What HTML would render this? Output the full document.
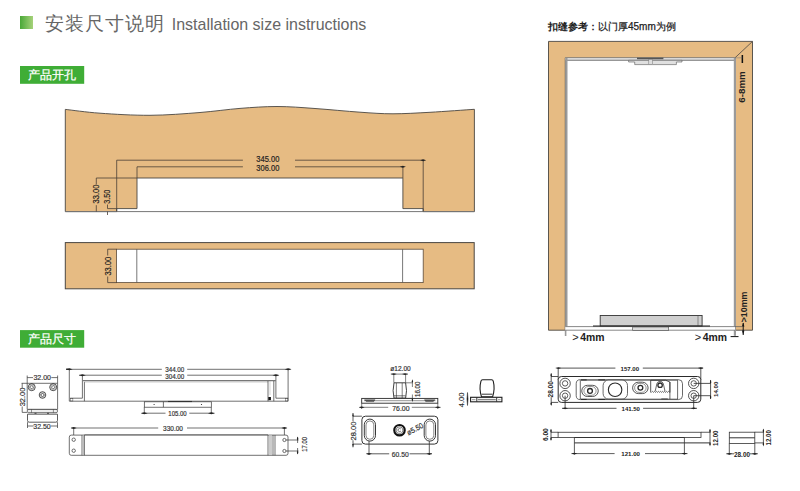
<!DOCTYPE html>
<html><head><meta charset="utf-8">
<style>
html,body{margin:0;padding:0;background:#fff;width:800px;height:491px;overflow:hidden}
svg{display:block;position:absolute;left:0;top:0}
text{font-family:"Liberation Sans",sans-serif}
</style></head><body>
<svg width="800" height="491" viewBox="0 0 800 491">
<defs>
<linearGradient id="gsq" x1="0" x2="1" y1="0" y2="0">
<stop offset="0" stop-color="#4aa838"/><stop offset="1" stop-color="#a6d27a"/>
</linearGradient>
</defs>
<!-- header -->
<rect x="20" y="16" width="13" height="13" fill="url(#gsq)"/>
<text x="45" y="29.5" font-size="19" letter-spacing="1" fill="#666">安装尺寸说明</text>
<text x="171.8" y="29.8" font-size="16.2" textLength="194.5" lengthAdjust="spacingAndGlyphs" fill="#666">Installation size instructions</text>

<rect x="20" y="66" width="64.2" height="17.8" fill="#3fad36"/>
<text x="28.4" y="79" font-size="11.8" fill="#fff" stroke="#fff" stroke-width="0.25">产品开孔</text>
<rect x="20" y="330.1" width="64.2" height="17.6" fill="#3fad36"/>
<text x="28.4" y="343" font-size="11.8" fill="#fff" stroke="#fff" stroke-width="0.25">产品尺寸</text>

<!-- ================= panel 1 ================= -->
<g id="p1">
<path d="M65.3,109.4 C71.1,110.0 85.9,112.2 100.0,113.2 C114.1,114.2 133.3,115.4 150.0,115.3 C166.7,115.2 185.0,113.7 200.0,112.5 C215.0,111.3 227.2,109.4 240.0,108.4 C252.8,107.4 264.5,106.5 277.0,106.5 C289.5,106.5 301.2,107.5 315.0,108.5 C328.8,109.5 347.0,111.3 360.0,112.2 C373.0,113.1 381.3,113.8 393.0,113.8 C404.7,113.8 416.4,113.0 430.0,112.3 C443.6,111.5 467.0,109.8 474.4,109.3 L474.4,211.6 L423.2,211.6 L423.2,208.6 L402.9,208.6 L402.9,178 L137,178 L137,208.6 L116.7,208.6 L116.7,211.6 L65.3,211.6 Z" fill="#e6bb83" stroke="#4a4642" stroke-width="0.9"/>
<line x1="65.3" y1="211.6" x2="474.4" y2="211.6" stroke="#777" stroke-width="1"/>
<g stroke="#4a3f35" stroke-width="0.8" fill="none">
<path d="M116.7,211.6 V160.2 H242.9 M295,160.2 H423.2 V211.6"/>
<path d="M137,178 V166.8 H242.9 M295,166.8 H402.9 V178"/>
<path d="M137,178 H96.3 V184.3 M96.3,205.2 V211.6"/>
<path d="M116.7,208.6 H107.5 V204.5 M107.5,211.6 V215"/>
</g>
<g fill="#222">
<path d="M420.2,160.2 L423.2,159.2 L426.2,160.2 L423.2,161.2 Z"/>
<path d="M399.9,166.8 L402.9,165.8 L405.9,166.8 L402.9,167.8 Z"/>
</g>
</g>

<!-- ================= panel 2 ================= -->
<g id="p2">
<rect x="65.3" y="242.6" width="408.9" height="46.2" fill="#e6bb83" stroke="#4a4642" stroke-width="1"/>
<rect x="116.5" y="249.2" width="306.7" height="33.4" fill="#fff" stroke="#5a4a3a" stroke-width="0.8"/>
<g stroke="#555" stroke-width="0.8" fill="none">
<path d="M136.8,249.2 V282.6 M402.6,249.2 V282.6"/>
</g>
<g stroke="#4a3f35" stroke-width="0.8" fill="none">
<path d="M116.5,249.2 H107.7 V255.5 M107.7,276.5 V282.6 H116.5"/>
</g>
</g>

<!-- ================= right door frame ================= -->
<g id="door">
<path d="M548.5,41.4 H752.5 V330.2 H735 V57.8 H565.3 V330.2 H548.5 Z" fill="#e6bb83" stroke="#4a4642" stroke-width="0.9"/>
<line x1="752.5" y1="41.4" x2="735" y2="57.8" stroke="#4a4642" stroke-width="0.8"/>
<!-- grey door edges -->
<rect x="565.3" y="57.8" width="169.7" height="2.6" fill="#d8d8d8"/>
<line x1="565.3" y1="60.3" x2="735" y2="60.3" stroke="#666" stroke-width="0.8"/>
<rect x="565.3" y="57.8" width="2.2" height="268.5" fill="#9a9a9a"/>
<rect x="733.8" y="57.8" width="2.2" height="278" fill="#9a9a9a"/>
<rect x="564.8" y="326" width="1.6" height="10" fill="#9a9a9a"/>
<!-- top pivot -->
<rect x="637" y="57.6" width="26.4" height="1.6" fill="#555"/>
<path d="M628.6,60.3 H682 V62 H676.4 V64.6 H634.7 V62 H628.6 Z" fill="#e0e0e0" stroke="#555" stroke-width="0.6"/>
<rect x="648.8" y="59.5" width="3.7" height="5.1" fill="#ddd" stroke="#777" stroke-width="0.5"/>
<rect x="741.6" y="55" width="1.5" height="8" fill="#111"/>
<line x1="735" y1="57.8" x2="742.3" y2="57.8" stroke="#777" stroke-width="0.5"/>
<!-- floor -->
<rect x="565.3" y="326.4" width="169.7" height="3.9" fill="#fff"/>
<path d="M565.3,326.6 H742 M565.3,330.2 H735" stroke="#555" stroke-width="0.7" fill="none"/>
<rect x="600.2" y="315.5" width="101.9" height="10.5" fill="#cfcfcf" stroke="#333" stroke-width="0.9"/>
<line x1="698" y1="316" x2="698" y2="326" stroke="#555" stroke-width="0.6"/>
<line x1="593" y1="326" x2="710" y2="326" stroke="#222" stroke-width="1"/>
<rect x="632.7" y="327" width="36" height="3.5" fill="#ddd" stroke="#444" stroke-width="0.6"/>
<line x1="730.6" y1="336.6" x2="738.5" y2="336.6" stroke="#111" stroke-width="1"/>
<path d="M743.2,323 V335" stroke="#111" stroke-width="1"/><path d="M743.2,322.6 L744.4,326.4 L742,326.4 Z M743.2,334.8 L744.4,330.4 L742,330.4 Z" fill="#111"/>
</g>


<!-- ================= bottom left: bracket ================= -->
<g id="bracket" stroke="#333" stroke-width="0.7" fill="none">
<path d="M27.2,383.3 H57.6 V409.4 H27.2 Z" fill="#fff"/>
<path d="M21.6,383.3 H27.2 M22.2,383.3 V388 M22.2,406.5 V412.4 H27.2"/>
<path d="M27.2,383.3 V375.5 M57.6,383.3 V375.5 M27.2,377.6 H33 M51.3,377.6 H57.6"/>
<circle cx="31.7" cy="387.2" r="3.5" stroke="#222" stroke-width="0.8"/><circle cx="31.7" cy="387.2" r="2.3" stroke-width="0.4"/>
<circle cx="53.2" cy="387.2" r="3.5" stroke="#222" stroke-width="0.8"/><circle cx="53.2" cy="387.2" r="2.3" stroke-width="0.4"/>
<circle cx="42.5" cy="395" r="3.3" stroke="#222" stroke-width="0.8"/><circle cx="42.5" cy="395" r="2.1" stroke-width="0.4"/>
<path d="M31.7,385.5 L33.4,387.2 L31.7,388.9 L30,387.2 Z M53.2,385.5 L54.9,387.2 L53.2,388.9 L51.5,387.2 Z M42.5,393.3 L44.2,395 L42.5,396.7 L40.8,395 Z" stroke="#222" stroke-width="0.6"/>
<rect x="27.3" y="409.4" width="30.2" height="3.3" rx="1.4" fill="#eee"/>
<path d="M31.5,409.4 V412.7 M53.4,409.4 V412.7" stroke-width="0.5"/>
<path d="M34.5,413.3 H36.5 M47,413.3 H49" stroke-width="0.9"/>
<path d="M27.5,414.2 H57.5 V420.5 Q57.5,422.2 55.8,422.2 H29.2 Q27.5,422.2 27.5,420.5 Z" stroke-width="0.8"/>
<path d="M27.5,422.2 V428 M57.5,422.2 V428 M27.5,426 H33.5 M50.8,426 H57.5"/>
</g>

<!-- ================= bottom left: profile 344 ================= -->
<g id="prof1" stroke="#333" stroke-width="0.7" fill="none">
<path d="M66.5,369.3 H161.8 M187.2,369.3 H290.5"/>
<path d="M79,375.2 H161.8 M187.2,375.2 H278.5"/>
<path d="M69.3,369.3 V401.2 H288.1 V369.3"/>
<path d="M82.4,375.2 V398.2 H70.2"/>
<path d="M275.9,375.2 V398.2 H288.1"/>
<path d="M84.4,381.9 V401.2"/>
<path d="M82.4,380.6 H275.9" stroke="#777" stroke-width="1.2"/>
<path d="M84.4,382 H268" stroke="#999" stroke-width="0.5"/>
<path d="M268,381 V401.2 M273.8,381 V401.2" />
<path d="M270,381 V395" stroke="#aaa" stroke-width="0.5"/>
<rect x="268.3" y="397" width="2.6" height="3.2" fill="#111" stroke="none"/>
<rect x="285.3" y="398.6" width="2.6" height="2.4" stroke-width="0.4"/>
<rect x="70.3" y="398.6" width="2.6" height="2.4" stroke-width="0.4"/>
<!-- small piece 105 -->
<rect x="144.3" y="401.8" width="67" height="5.4" fill="#fff"/>
<path d="M163.4,401.8 V407.2"/>
<path d="M168,401.5 H192" stroke-width="1.1"/>
<path d="M144.3,407.2 V413.5 M211.3,407.2 V413.5 M141.5,413.2 H165.5 M189.3,413.2 H214.5"/>
</g>
<g fill="#222">
<path d="M66.2,368.6 L71.5,369.3 L66.2,370 Z" transform="rotate(0)"/>
<circle cx="154.1" cy="404.5" r="0.6"/><circle cx="201.5" cy="404.5" r="0.6"/>
<path d="M66,369.3 L69.3,368.3 L72.6,369.3 L69.3,370.3 Z"/>
<path d="M79,375.2 L82.4,374.2 L85.8,375.2 L82.4,376.2 Z"/>
<path d="M284.7,369.3 L288.1,368.3 L291.5,369.3 L288.1,370.3 Z"/>
<path d="M272.5,375.2 L275.9,374.2 L279.3,375.2 L275.9,376.2 Z"/>
<path d="M141,413.2 L144.3,412.2 L147.6,413.2 L144.3,414.2 Z"/>
<path d="M208,413.2 L211.3,412.2 L214.6,413.2 L211.3,414.2 Z"/>
</g>

<!-- ================= profile 330 ================= -->
<g id="prof2" stroke="#333" stroke-width="0.7" fill="none">
<path d="M71.2,428 H158.2 M187,428 H286.5"/>
<path d="M73.7,428 V438 M284.4,428 V438.3"/>
<path d="M71.3,435.1 H286 Q288,435.1 288,437.1 V453.3 Q288,455.3 286,455.3 H71.3 Q69.3,455.3 69.3,453.3 V437.1 Q69.3,435.1 71.3,435.1 Z" fill="#fff"/>
<path d="M84.4,434.6 H268" stroke="#888" stroke-width="1.2"/>
<path d="M82,435.1 V455.3 M84.4,435.1 V455.3 M268,435.1 V455.3 M273,435.1 V455.3 M275,435.1 V455.3"/>
<path d="M83.2,435.5 V455" stroke="#bbb" stroke-width="1.6"/>
<path d="M270.5,435.5 V455" stroke="#ccc" stroke-width="3"/>
<circle cx="73.7" cy="439.7" r="1.7"/><circle cx="73.7" cy="450.7" r="1.7"/>
<circle cx="284.4" cy="440" r="1.6"/><circle cx="284.4" cy="451" r="1.6"/>
<path d="M286,440 H298.5 M286,451 H298.5 M297.6,437 V443 M297.6,448 V454"/>
</g>
<g fill="#222">
<path d="M70.7,428 L73.7,427 L76.7,428 L73.7,429 Z"/>
<path d="M281.4,428 L284.4,427 L287.4,428 L284.4,429 Z"/>
<path d="M297.6,436.40 L298.35,438.80 L297.6,440.40 L296.85,438.80 Z M297.6,454.60 L298.35,452.20 L297.6,450.60 L296.85,452.20 Z "/>
</g>

<!-- ================= shaft (ø12) ================= -->
<g id="shaft" stroke="#2a2a2a" stroke-width="0.7" fill="none">
<path d="M390.8,374.1 H408 M393.8,374.1 V382.8 M405.6,374.1 V382.8" stroke-width="0.6"/>
<path d="M394,382.8 H405.6 Q407.4,390.6 405.6,398.4 H394 Q392.2,390.6 394,382.8 Z" fill="#fff" stroke-width="0.9"/>
<path d="M396.4,383 V403 M402.2,383 V403" stroke-width="0.6"/>
<path d="M394,395.6 H405.6 M394,397.2 H405.6" stroke-width="0.5"/>
<path d="M405.6,382.8 H412.5 M405.6,398.4 H412.5 M412.4,382.8 V387 M412.4,394.5 V398.8" stroke-width="0.6"/>
<rect x="361.7" y="398.4" width="76.1" height="4.8" fill="#fff" stroke-width="0.9"/>
<path d="M364,400.7 H435.5" stroke-width="0.5"/>
<path d="M364.5,399.7 H375 L373.8,401.6 H366.3 Z M424.5,399.7 H435 L433.2,401.6 H425.7 Z" fill="#555" stroke-width="0.4"/>
<path d="M361.7,403.2 V409 M437.8,403.2 V409 M359.5,407.3 H388.2 M411.8,407.3 H440.5" stroke-width="0.6"/>
</g>
<g fill="#222">
<path d="M390.8,374.1 L393.8,373.2 L396.8,374.1 L393.8,375 Z M402,374.1 L405,373.2 L408,374.1 L405,375 Z"/>
<path d="M412.4,379.20 L413.15,381.60 L412.4,383.20 L411.65,381.60 Z M412.4,402.00 L413.15,399.60 L412.4,398.00 L411.65,399.60 Z "/>
<path d="M358.7,407.3 L361.7,406.4 L364.7,407.3 L361.7,408.2 Z M434.8,407.3 L437.8,406.4 L440.8,407.3 L437.8,408.2 Z"/>
</g>

<!-- ================= knob ================= -->
<g id="knob" stroke="#1e1e1e" stroke-width="1.1" fill="none">
<path d="M482.6,379.8 H491.6 Q493,379.8 493.3,381.3 Q495.2,388.5 492.6,396.8 H481.5 Q478.9,388.5 480.9,381.3 Q481.2,379.8 482.6,379.8 Z" fill="#fff"/>
<path d="M481.6,394.2 H492.5" stroke-width="0.9"/>
<rect x="470.6" y="397.3" width="31.3" height="4.5" fill="#fff" stroke-width="1.1"/>
<path d="M476.8,397.5 V401.6 M496.7,397.5 V401.6" stroke-width="0.9"/>
<path d="M477.8,399.6 H495.8" stroke="#888" stroke-width="1.4"/>
<path d="M472,399.6 H475.5 M498,399.6 H500.6" stroke="#aaa" stroke-width="1.2"/>
</g>
<path d="M467.5,392.5 Q468.6,399 467.5,405.5 Q466.4,399 467.5,392.5 Z" fill="#1e1e1e" stroke="#1e1e1e" stroke-width="0.5"/>

<!-- ================= plate (28 / 60.50) ================= -->
<g id="plate" stroke="#333" stroke-width="0.8" fill="none">
<rect x="361.9" y="416.2" width="76" height="27.9" rx="3.5" fill="#fff" stroke-width="1"/>
<rect x="364.3" y="419.1" width="11.2" height="22" rx="5.6" stroke="#222" stroke-width="0.9"/>
<rect x="366" y="420.9" width="7.8" height="18.4" rx="3.9" stroke-width="0.6"/>
<rect x="424.2" y="419.1" width="11.3" height="22" rx="5.6" stroke="#222" stroke-width="0.9"/>
<rect x="425.9" y="420.9" width="7.9" height="18.4" rx="3.9" stroke-width="0.6"/>
<circle cx="399.5" cy="430.2" r="5.2" stroke-width="2.2" stroke="#111"/>
<circle cx="399.5" cy="430.2" r="3.4" stroke-width="0.6"/>
<path d="M400.8,429 A1.6,1.6 0 1 0 400.9,431" stroke-width="0.7"/>
<path d="M353,416.2 H361.9 M353,444.1 H361.9 M353,413 V421.3 M353,440.3 V447.3"/>
<path d="M369,441.1 V455 M429.3,441.1 V455 M366.5,453.8 H389.2 M409.6,453.8 H432"/>
</g>
<g fill="#222">
<path d="M352.2,416.2 L353,413 L353.8,416.2 Z M352.2,444.1 L353,447.3 L353.8,444.1 Z"/>
<path d="M366,453.8 L369,452.9 L372,453.8 L369,454.7 Z M426.3,453.8 L429.3,452.9 L432.3,453.8 L429.3,454.7 Z"/>
</g>

<!-- ================= right plate 157 ================= -->
<g id="rplate" stroke="#2a2a2a" stroke-width="0.8" fill="none">
<path d="M558.2,368.1 H615.4 M642.8,368.1 H703 M558.2,368.1 V380 M700.8,368.1 V380"/>
<rect x="558.2" y="376.5" width="142.6" height="25.9" rx="3.2" fill="#fff" stroke-width="1"/>
<circle cx="565.1" cy="383.4" r="5.2"/><circle cx="565.1" cy="383.4" r="2.7" stroke-width="0.75"/>
<circle cx="565.1" cy="395.7" r="5.2"/><circle cx="565.1" cy="395.7" r="2.7" stroke-width="0.75"/>
<circle cx="693.7" cy="383.4" r="5.2"/><circle cx="693.7" cy="383.4" r="2.7" stroke-width="0.75"/>
<circle cx="693.7" cy="395.7" r="5.2"/><circle cx="693.7" cy="395.7" r="2.7" stroke-width="0.75"/>
<path d="M580.3,379.7 H678.5 Q682.5,379.7 682.5,383.7 V395.6 Q682.5,399.6 678.5,399.6 H580.3 Q576.2,399.6 576.2,395.6 V383.7 Q576.2,379.7 580.3,379.7 Z" fill="#fff" stroke-width="0.7"/>
<path d="M580.3,380.4 V399" stroke-width="0.7"/>
<path d="M580.3,380.4 H678" stroke-width="0.5"/>
<path d="M580.3,399 H678" stroke-width="0.5"/>
<path d="M581,379.9 H586.7 M598.3,379.9 H605 M581,399.4 H586.7 M598.3,399.4 H605" stroke-width="1"/>
<rect x="603.1" y="380" width="24.4" height="19.1" rx="5.5" fill="#fff" stroke-width="0.7"/>
<path d="M607,380.3 H623.5 M607,398.8 H623.5" stroke="#888" stroke-width="0.8"/>
<circle cx="615.1" cy="389.75" r="6.75" stroke-width="1.1"/>
<rect x="581.75" y="385.3" width="16.5" height="11.2" rx="5.6" stroke-width="0.8"/>
<rect x="583.9" y="386.5" width="12.2" height="8.8" rx="4.4" stroke-width="0.5"/>
<circle cx="590" cy="390.9" r="2.4" stroke-width="1.3"/>
<path d="M588.2,386.3 H591.8 M588.2,395.5 H591.8" stroke="#999" stroke-width="0.8"/>
<rect x="632.6" y="382.2" width="15.5" height="11.4" rx="5.7" stroke-width="0.8"/>
<rect x="634.6" y="383.4" width="11.5" height="9" rx="4.5" stroke-width="0.5"/>
<circle cx="640.4" cy="387.8" r="2.4" stroke-width="1.3"/>
<path d="M650.7,380.2 V392.5 M650.7,380.2 H665.5 L669.9,382 V392.5" stroke-width="0.8"/>
<path d="M651.5,392.3 l1,-0.9 l1,0.9 l1,-0.9 l1,0.9 l1,-0.9 l1,0.9 l1,-0.9 l1,0.9 l1,-0.9 l1,0.9 l1,-0.9 l1,0.9 l1,-0.9 l1,0.9 l1,-0.9 l1,0.9 l1,-0.9 l1,0.9" stroke-width="0.7"/>
<path d="M655.2,391.2 L656.9,383.6 A3.4,3.4 0 0 1 663.3,383.6 L665,391.2" stroke-width="0.7"/>
<circle cx="660.1" cy="385.2" r="2.2" stroke-width="1.3"/>
<path d="M669.9,382 V399 M677.6,380.4 V399 M661.3,398.9 H667.8" stroke-width="0.7"/>
<path d="M551.2,376.5 H558.2 M551.2,402.4 H558.2 M551.2,373.5 V381.5 M551.2,397.2 V405"/>
<path d="M565.1,395.7 V409 M693.7,395.7 V409 M562,408.3 H616.5 M643.1,408.3 H697"/>
<path d="M693.7,383.4 H710.6 M693.7,395.7 H710.6 M710.6,380 V399"/>
</g>
<g fill="#222">
<path d="M555.2,368.1 L558.2,367.2 L561.2,368.1 L558.2,369 Z M697.8,368.1 L700.8,367.2 L703.8,368.1 L700.8,369 Z"/>
<path d="M562.1,408.3 L565.1,407.4 L568.1,408.3 L565.1,409.2 Z M690.7,408.3 L693.7,407.4 L696.7,408.3 L693.7,409.2 Z"/>
<path d="M551.2,372.90 L551.95,375.30 L551.2,376.90 L550.45,375.30 Z M551.2,406.00 L551.95,403.60 L551.2,402.00 L550.45,403.60 Z "/>
<path d="M710.6,379.80 L711.35,382.20 L710.6,383.80 L709.85,382.20 Z M710.6,399.30 L711.35,396.90 L710.6,395.30 L709.85,396.90 Z "/>
</g>

<!-- ================= side view 121 ================= -->
<g id="side" stroke="#333" stroke-width="0.8" fill="none">
<rect x="558.1" y="432.25" width="142.9" height="5.25" fill="#fff"/>
<path d="M574.4,437.5 H684.4 M574.4,442.9 H710.5" stroke-width="1"/>
<path d="M551,432.25 H558.1 M551,437.5 H558.1 M551,429.5 V440"/>
<path d="M701,432.25 H710.5 M710,429.5 V445"/>
<path d="M574.4,437.5 V454.5 M684.4,437.5 V454.5 M571.5,453.6 H614.6 M645,453.6 H687.5"/>
<!-- small block -->
<rect x="729.3" y="432.2" width="25.5" height="11.2" fill="#fff"/>
<path d="M729.3,437.8 H754.8" stroke-width="1"/>
<path d="M754.8,432.2 H764 M754.8,442.9 H764 M763.4,429.5 V445"/>
<path d="M729.3,443.4 V454.5 M754.8,443.4 V454.5 M726.3,453.8 H734 M750,453.8 H757.8"/>
</g>
<g fill="#222">
<path d="M551,428.65 L551.75,431.05 L551,432.65 L550.25,431.05 Z M551,441.10 L551.75,438.70 L551,437.10 L550.25,438.70 Z "/>
<path d="M710,428.65 L710.75,431.05 L710,432.65 L709.25,431.05 Z M710,446.50 L710.75,444.10 L710,442.50 L709.25,444.10 Z "/>
<path d="M763.4,428.60 L764.15,431.00 L763.4,432.60 L762.65,431.00 Z M763.4,446.50 L764.15,444.10 L763.4,442.50 L762.65,444.10 Z "/>
<path d="M571.4,453.6 L574.4,452.7 L577.4,453.6 L574.4,454.5 Z M681.4,453.6 L684.4,452.7 L687.4,453.6 L684.4,454.5 Z"/>
<path d="M726.3,453.8 L729.3,452.9 L732.3,453.8 L729.3,454.7 Z M751.8,453.8 L754.8,452.9 L757.8,453.8 L754.8,454.7 Z"/>
</g>

<text transform="translate(267.8,159.0) rotate(0)" x="0" y="2.94" text-anchor="middle" font-size="8.2" font-weight="normal" fill="#222" textLength="23.02" lengthAdjust="spacingAndGlyphs" stroke="#222" stroke-width="0.18">345.00</text>
<text transform="translate(267.8,167.8) rotate(0)" x="0" y="2.94" text-anchor="middle" font-size="8.2" font-weight="normal" fill="#222" textLength="23.02" lengthAdjust="spacingAndGlyphs" stroke="#222" stroke-width="0.18">306.00</text>
<text transform="translate(96.2,194.0) rotate(-90)" x="0" y="3.01" text-anchor="middle" font-size="8.4" font-weight="normal" fill="#222" textLength="18.97" lengthAdjust="spacingAndGlyphs" stroke="#222" stroke-width="0.18">33.00</text>
<text transform="translate(107.4,196.7) rotate(-90)" x="0" y="3.01" text-anchor="middle" font-size="8.4" font-weight="normal" fill="#222" textLength="14.29" lengthAdjust="spacingAndGlyphs" stroke="#222" stroke-width="0.18">3.50</text>
<text transform="translate(107.7,266.2) rotate(-90)" x="0" y="3.01" text-anchor="middle" font-size="8.4" font-weight="normal" fill="#222" textLength="18.86" lengthAdjust="spacingAndGlyphs" stroke="#222" stroke-width="0.18">33.00</text>
<text transform="translate(42.2,377.7) rotate(0)" x="0" y="2.58" text-anchor="middle" font-size="7.2" font-weight="normal" fill="#333" textLength="17.61" lengthAdjust="spacingAndGlyphs" stroke="#333" stroke-width="0.18">32.00</text>
<text transform="translate(42.0,426.4) rotate(0)" x="0" y="2.61" text-anchor="middle" font-size="7.3" font-weight="normal" fill="#333" textLength="17.51" lengthAdjust="spacingAndGlyphs" stroke="#333" stroke-width="0.18">32.50</text>
<text transform="translate(22.8,397.0) rotate(-90)" x="0" y="2.61" text-anchor="middle" font-size="7.3" font-weight="normal" fill="#333" textLength="18.55" lengthAdjust="spacingAndGlyphs" stroke="#333" stroke-width="0.18">32.00</text>
<text transform="translate(174.75,369.2) rotate(0)" x="0" y="2.43" text-anchor="middle" font-size="6.8" font-weight="normal" fill="#333" textLength="19.17" lengthAdjust="spacingAndGlyphs" stroke="#333" stroke-width="0.18">344.00</text>
<text transform="translate(174.75,376.5) rotate(0)" x="0" y="2.43" text-anchor="middle" font-size="6.8" font-weight="normal" fill="#333" textLength="19.17" lengthAdjust="spacingAndGlyphs" stroke="#333" stroke-width="0.18">304.00</text>
<text transform="translate(177.5,413.2) rotate(0)" x="0" y="2.43" text-anchor="middle" font-size="6.8" font-weight="normal" fill="#333" textLength="18.34" lengthAdjust="spacingAndGlyphs" stroke="#333" stroke-width="0.18">105.00</text>
<text transform="translate(173.0,428.2) rotate(0)" x="0" y="2.43" text-anchor="middle" font-size="6.8" font-weight="normal" fill="#333" textLength="19.90" lengthAdjust="spacingAndGlyphs" stroke="#333" stroke-width="0.18">330.00</text>
<text transform="translate(304.1,444.4) rotate(-90)" x="0" y="2.43" text-anchor="middle" font-size="6.8" font-weight="normal" fill="#333" textLength="14.91" lengthAdjust="spacingAndGlyphs" stroke="#333" stroke-width="0.18">17.00</text>
<text transform="translate(400.5,369.0) rotate(0)" x="0" y="2.43" text-anchor="middle" font-size="6.8" font-weight="normal" fill="#333" textLength="20.42" lengthAdjust="spacingAndGlyphs" stroke="#333" stroke-width="0.18">ø12.00</text>
<text transform="translate(400.9,408.1) rotate(0)" x="0" y="2.43" text-anchor="middle" font-size="6.8" font-weight="normal" fill="#333" textLength="17.30" lengthAdjust="spacingAndGlyphs" stroke="#333" stroke-width="0.18">76.00</text>
<text transform="translate(417.7,389.3) rotate(-90)" x="0" y="2.43" text-anchor="middle" font-size="6.8" font-weight="normal" fill="#333" textLength="15.53" lengthAdjust="spacingAndGlyphs" stroke="#333" stroke-width="0.18">16.00</text>
<text transform="translate(461.4,399.9) rotate(-90)" x="0" y="2.65" text-anchor="middle" font-size="7.4" font-weight="normal" fill="#333" textLength="14.60" lengthAdjust="spacingAndGlyphs" stroke="#333" stroke-width="0.18">4.00</text>
<text transform="translate(353.0,431.0) rotate(-90)" x="0" y="2.58" text-anchor="middle" font-size="7.2" font-weight="normal" fill="#333" textLength="19.07" lengthAdjust="spacingAndGlyphs" stroke="#333" stroke-width="0.18">28.00</text>
<text transform="translate(400.2,454.1) rotate(0)" x="0" y="2.43" text-anchor="middle" font-size="6.8" font-weight="normal" fill="#333" textLength="16.99" lengthAdjust="spacingAndGlyphs" stroke="#333" stroke-width="0.18">60.50</text>
<text transform="translate(414.9,428.9) rotate(-28)" x="0" y="2.72" text-anchor="middle" font-size="7.6" font-weight="normal" fill="#333" textLength="17.51" lengthAdjust="spacingAndGlyphs" stroke="#333" stroke-width="0.18">ø5.50</text>
<text transform="translate(629.8,368.45) rotate(0)" x="0" y="2.18" text-anchor="middle" font-size="6.1" font-weight="bold" fill="#222" textLength="18.65" lengthAdjust="spacingAndGlyphs">157.00</text>
<text transform="translate(630.75,408.65) rotate(0)" x="0" y="2.18" text-anchor="middle" font-size="6.1" font-weight="bold" fill="#222" textLength="18.45" lengthAdjust="spacingAndGlyphs">141.50</text>
<text transform="translate(630.6,453.85) rotate(0)" x="0" y="2.18" text-anchor="middle" font-size="6.1" font-weight="bold" fill="#222" textLength="18.65" lengthAdjust="spacingAndGlyphs">121.00</text>
<text transform="translate(550.8,389.3) rotate(-90)" x="0" y="2.29" text-anchor="middle" font-size="6.4" font-weight="bold" fill="#222" textLength="16.26" lengthAdjust="spacingAndGlyphs">28.00</text>
<text transform="translate(716.0,389.3) rotate(-90)" x="0" y="2.22" text-anchor="middle" font-size="6.2" font-weight="bold" fill="#222" textLength="15.43" lengthAdjust="spacingAndGlyphs">14.00</text>
<text transform="translate(546.2,434.7) rotate(-90)" x="0" y="2.29" text-anchor="middle" font-size="6.4" font-weight="bold" fill="#222" textLength="12.83" lengthAdjust="spacingAndGlyphs">6.00</text>
<text transform="translate(716.0,438.2) rotate(-90)" x="0" y="2.29" text-anchor="middle" font-size="6.4" font-weight="bold" fill="#222" textLength="15.43" lengthAdjust="spacingAndGlyphs">12.00</text>
<text transform="translate(769.0,437.8) rotate(-90)" x="0" y="2.29" text-anchor="middle" font-size="6.4" font-weight="bold" fill="#222" textLength="15.43" lengthAdjust="spacingAndGlyphs">12.00</text>
<text transform="translate(742.0,454.75) rotate(0)" x="0" y="2.29" text-anchor="middle" font-size="6.4" font-weight="bold" fill="#222" textLength="15.95" lengthAdjust="spacingAndGlyphs">28.00</text>
<text x="548.4" y="30" font-size="10" font-weight="bold" fill="#222">扣缝参考：</text>
<text x="598" y="30" font-size="10" fill="#222" stroke="#222" stroke-width="0.25">以门厚45mm为例</text>
<text transform="translate(742.0,87.0) rotate(-90)" x="0" y="3.22" text-anchor="middle" font-size="9" font-weight="bold" fill="#222" textLength="31.55" lengthAdjust="spacingAndGlyphs">6-8mm</text>
<text transform="translate(743.8,306.9) rotate(-90)" x="0" y="3.22" text-anchor="middle" font-size="9" font-weight="bold" fill="#222" textLength="30.82" lengthAdjust="spacingAndGlyphs">&gt;10mm</text>
<text x="572.3" y="341" font-size="10.4" font-weight="bold" fill="#222"><tspan font-weight="normal" font-size="11">&gt;</tspan><tspan dx="1.6">4mm</tspan></text>
<text x="694.8" y="341" font-size="10.4" font-weight="bold" fill="#222"><tspan font-weight="normal" font-size="11">&gt;</tspan><tspan dx="1.6">4mm</tspan></text>
</svg>
</body></html>
